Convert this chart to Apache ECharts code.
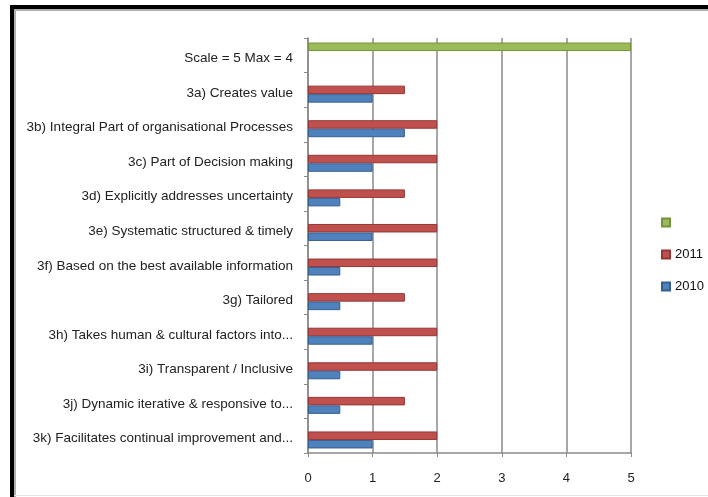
<!DOCTYPE html>
<html>
<head>
<meta charset="utf-8">
<script src="https://cdn.jsdelivr.net/npm/echarts@6/dist/echarts.min.js"></script>
<style>
  html, body { margin: 0; padding: 0; background: #fff; }
  #chart { width: 708px; height: 497px; }
</style>
</head>
<body>
<div id="chart"></div>
<script>
// Principle categories, listed top to bottom
const categories = [
  'Scale = 5 Max = 4',
  '3a) Creates value',
  '3b) Integral Part of organisational Processes',
  '3c) Part of Decision making',
  '3d) Explicitly addresses uncertainty',
  '3e) Systematic structured & timely',
  '3f) Based on the best available information',
  '3g) Tailored',
  '3h) Takes human & cultural factors into...',
  '3i) Transparent / Inclusive',
  '3j) Dynamic iterative & responsive to...',
  '3k) Facilitates continual improvement and...'
];

// Scale reference bar (first row only)
const scaleValues = [5, null, null, null, null, null, null, null, null, null, null, null];
// Scores per year
const values2011 = [null, 1.5, 2, 2, 1.5, 2, 2, 1.5, 2, 2, 1.5, 2];
const values2010 = [null, 1, 1.5, 1, 0.5, 1, 0.5, 0.5, 1, 0.5, 0.5, 1];

const xTicks = [0, 1, 2, 3, 4, 5];

const font = 'Liberation Sans';

const chart = echarts.init(document.getElementById('chart'));

function barSeries(name, data, color, border) {
  return {
    name: name,
    type: 'bar',
    data: data,
    barWidth: 8.5,
    barGap: '0%',
    itemStyle: { color: color, borderColor: border, borderWidth: 1 },
    silent: true
  };
}

chart.setOption({
  animation: false,
  backgroundColor: '#ffffff',
  textStyle: { fontFamily: font },
  graphic: [
    // frame: black top/left edges with a grey inner shadow, faint bottom rule
    { type: 'rect', shape: { x: 10, y: 5, width: 698, height: 4 }, style: { fill: '#000' } },
    { type: 'rect', shape: { x: 10, y: 5, width: 4, height: 492 }, style: { fill: '#000' } },
    { type: 'rect', shape: { x: 14, y: 9, width: 694, height: 2 }, style: { fill: '#b0b0b0' } },
    { type: 'rect', shape: { x: 14, y: 9, width: 2, height: 488 }, style: { fill: '#b0b0b0' } },
    { type: 'rect', shape: { x: 14, y: 495, width: 694, height: 1 }, style: { fill: '#e4e4e4' } }
  ],
  legend: {
    orient: 'vertical',
    left: 656,
    top: 211,
    itemWidth: 8,
    itemHeight: 8,
    itemGap: 19,
    icon: 'rect',
    data: [' ', '2011', '2010'],
    textStyle: { fontFamily: font, fontSize: 13, color: '#111' }
  },
  grid: { left: 308, right: 77, top: 38, bottom: 44, containLabel: false },
  xAxis: {
    type: 'value',
    min: xTicks[0],
    max: xTicks[xTicks.length - 1],
    interval: 1,
    axisLine: { show: true, lineStyle: { color: '#8a8a8a', width: 1.5 } },
    axisTick: { show: true, length: 4, lineStyle: { color: '#8a8a8a' } },
    axisLabel: { margin: 19, fontSize: 13, color: '#222', fontFamily: font },
    splitLine: { show: true, lineStyle: { color: '#8a8a8a', width: 1.5 } }
  },
  yAxis: {
    type: 'category',
    inverse: true,
    data: categories,
    axisLine: { show: true, lineStyle: { color: '#8a8a8a', width: 1.5 } },
    axisTick: { show: true, length: 4, lineStyle: { color: '#8a8a8a' } },
    // labels sit a few pixels below the band centre
    axisLabel: { margin: 15, fontSize: 13.5, color: '#222', fontFamily: font, verticalAlign: 'top', lineHeight: 6 }
  },
  series: [
    barSeries(' ', scaleValues, '#9bbb59', '#76923c'),
    barSeries('2011', values2011, '#c0504d', '#943634'),
    barSeries('2010', values2010, '#4f81bd', '#365f91')
  ]
});
</script>
</body>
</html>
